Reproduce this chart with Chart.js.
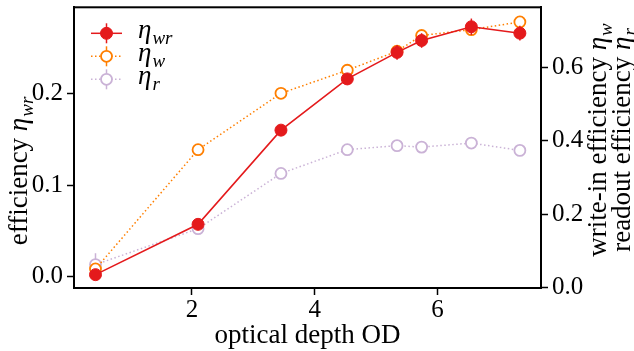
<!DOCTYPE html>
<html><head><meta charset="utf-8">
<script src="https://cdn.jsdelivr.net/npm/chart.js@4/dist/chart.umd.min.js"></script>
<style>html,body{margin:0;padding:0;background:#fff;}#wrap{width:634px;height:351px;}</style>
</head><body><div id="wrap"><canvas id="c" width="634" height="351"></canvas></div>
<script>
// ---- data ----
const opticalDepth = [0.43, 2.10, 3.45, 4.53, 5.34, 5.74, 6.55, 7.34];
const etaWR = [0.002, 0.057, 0.160, 0.216, 0.245, 0.258, 0.273, 0.266];
const etaWRErr = [0.004, 0.004, 0.005, 0.006, 0.008, 0.008, 0.009, 0.008];
const etaW = [0.050, 0.376, 0.530, 0.593, 0.645, 0.688, 0.704, 0.725];
const etaWErr = [0.010, 0.010, 0.010, 0.010, 0.010, 0.010, 0.010, 0.010];
const etaR = [0.062, 0.160, 0.311, 0.376, 0.387, 0.383, 0.394, 0.374];
const etaRErr = [0.031, 0.010, 0.010, 0.010, 0.010, 0.010, 0.010, 0.010];
const xTicks = [2, 4, 6];
const leftTicks = [0.0, 0.1, 0.2];
const rightTicks = [0.0, 0.2, 0.4, 0.6];
const seriesNames = [['η', 'wr'], ['η', 'w'], ['η', 'r']];

const FONT = '"Liberation Serif", "Times New Roman", serif';
const FS = 25;      // tick labels
const TFS = 27;     // axis titles / legend
const RED = '#e41a1c', ORANGE = '#ff7f00', PURPLE = '#cab2d6';

const pts = (ys) => opticalDepth.map((x, i) => ({x, y: ys[i]}));

function drawMath(ctx, parts, x, y, size) {
  let cx = x;
  if (parts.plain) {
    ctx.font = `${size}px ${FONT}`;
    ctx.fillText(parts.plain, cx, y);
    cx += ctx.measureText(parts.plain).width;
  }
  ctx.font = `italic ${size}px ${FONT}`;
  ctx.fillText(parts.base, cx, y);
  cx += ctx.measureText(parts.base).width + 1;
  ctx.font = `italic ${Math.round(size * 0.72)}px ${FONT}`;
  ctx.fillText(parts.sub, cx, y + size * 0.22);
}
function mathWidth(ctx, parts, size) {
  let w = 0;
  if (parts.plain) { ctx.font = `${size}px ${FONT}`; w += ctx.measureText(parts.plain).width; }
  ctx.font = `italic ${size}px ${FONT}`; w += ctx.measureText(parts.base).width + 1;
  ctx.font = `italic ${Math.round(size * 0.72)}px ${FONT}`; w += ctx.measureText(parts.sub).width;
  return w;
}

const errorBars = {
  id: 'errorBars',
  beforeDatasetDraw(chart, args) {
    const ds = chart.data.datasets[args.index];
    if (!ds.errors) return;
    const ctx = chart.ctx, xs = chart.scales.x, ys = chart.scales[ds.yAxisID];
    ctx.save();
    ctx.strokeStyle = ds.borderColor; ctx.lineWidth = 1.5;
    ds.data.forEach((p, i) => {
      const e = ds.errors[i], px = xs.getPixelForValue(p.x);
      ctx.beginPath();
      ctx.moveTo(px, ys.getPixelForValue(p.y - e));
      ctx.lineTo(px, ys.getPixelForValue(p.y + e));
      ctx.stroke();
    });
    ctx.restore();
  }
};

const decorations = {
  id: 'decorations',
  afterDraw(chart) {
    const ctx = chart.ctx, a = chart.chartArea;
    ctx.save();
    ctx.strokeStyle = '#000'; ctx.lineWidth = 2;
    ctx.strokeRect(a.left, a.top, a.right - a.left, a.bottom - a.top);
    // legend
    chart.data.datasets.forEach((ds, i) => {
      const y = a.top + 26 + i * 23, x0 = a.left + 17, x1 = a.left + 48, xm = (x0 + x1) / 2;
      ctx.strokeStyle = ds.borderColor; ctx.lineWidth = 1.5;
      ctx.setLineDash(ds.borderDash || []);
      ctx.beginPath(); ctx.moveTo(x0, y); ctx.lineTo(x1, y); ctx.stroke();
      ctx.setLineDash([]);
      ctx.beginPath(); ctx.moveTo(xm, y - 10); ctx.lineTo(xm, y + 10); ctx.stroke();
      ctx.beginPath(); ctx.arc(xm, y, ds.pointRadius, 0, Math.PI * 2);
      ctx.fillStyle = ds.pointBackgroundColor; ctx.fill();
      ctx.lineWidth = ds.pointBorderWidth; ctx.strokeStyle = ds.pointBorderColor; ctx.stroke();
      ctx.fillStyle = '#000'; ctx.textBaseline = 'alphabetic'; ctx.textAlign = 'left';
      drawMath(ctx, {base: seriesNames[i][0], sub: seriesNames[i][1]}, a.left + 64, y + 5, TFS);
    });
    ctx.fillStyle = '#000'; ctx.textBaseline = 'alphabetic'; ctx.textAlign = 'center';
    ctx.font = `${TFS}px ${FONT}`;
    ctx.fillText('optical depth OD', (a.left + a.right) / 2, 343);
    ctx.textAlign = 'left';
    const lt = {plain: 'efficiency ', base: 'η', sub: 'wr'};
    ctx.save(); ctx.translate(27, 171); ctx.rotate(-Math.PI / 2);
    drawMath(ctx, lt, -mathWidth(ctx, lt, TFS) / 2, 0, TFS);
    ctx.restore();
    const r1 = {plain: 'write-in efficiency ', base: 'η', sub: 'w'};
    const r2 = {plain: 'readout efficiency ', base: 'η', sub: 'r'};
    ctx.save(); ctx.translate(606, 140); ctx.rotate(-Math.PI / 2);
    drawMath(ctx, r1, -mathWidth(ctx, r1, TFS) / 2, 0, TFS);
    ctx.restore();
    ctx.save(); ctx.translate(630, 140); ctx.rotate(-Math.PI / 2);
    drawMath(ctx, r2, -mathWidth(ctx, r2, TFS) / 2, 0, TFS);
    ctx.restore();
    ctx.restore();
  }
};

const tickFont = {family: FONT, size: FS};
const axisCommon = {
  border: {display: true, color: '#000', width: 2},
  grid: {drawOnChartArea: false, drawTicks: true, tickLength: 7, tickColor: '#000', tickWidth: 1.5},
};
const noPad = s => { s.paddingTop = 0; s.paddingBottom = 0; s.paddingLeft = 0; s.paddingRight = 0; };

new Chart(document.getElementById('c'), {
  type: 'line',
  data: {
    datasets: [
      {label: 'eta_wr', data: pts(etaWR), errors: etaWRErr, yAxisID: 'y', order: 0,
       borderColor: RED, borderWidth: 1.6, pointRadius: 6, pointBackgroundColor: RED,
       pointBorderColor: RED, pointBorderWidth: 1, clip: false},
      {label: 'eta_w', data: pts(etaW), errors: etaWErr, yAxisID: 'y2', order: 1,
       borderColor: ORANGE, borderWidth: 1.5, borderDash: [1.5, 2.5], pointRadius: 5.5,
       pointBackgroundColor: '#fff', pointBorderColor: ORANGE, pointBorderWidth: 1.8, clip: false},
      {label: 'eta_r', data: pts(etaR), errors: etaRErr, yAxisID: 'y2', order: 2,
       borderColor: PURPLE, borderWidth: 1.5, borderDash: [1.5, 2.5], pointRadius: 5.5,
       pointBackgroundColor: '#fff', pointBorderColor: PURPLE, pointBorderWidth: 1.8, clip: false}
    ]
  },
  options: {
    responsive: false, animation: false,
    layout: {padding: {top: 7, left: 0, right: 0, bottom: 0}},
    plugins: {legend: {display: false}, tooltip: {enabled: false}},
    elements: {line: {tension: 0}},
    scales: {
      x: {type: 'linear', position: 'bottom', min: 0.08, max: 7.684, ...axisCommon,
          ticks: {font: tickFont, color: '#000', padding: 0, callback: v => String(v)},
          afterBuildTicks: s => { s.ticks = xTicks.map(v => ({value: v})); },
          afterFit: s => { s.height = 63; noPad(s); }},
      y: {type: 'linear', position: 'left', min: -0.0126, max: 0.2943, ...axisCommon,
          ticks: {font: tickFont, color: '#000', padding: 4, callback: v => v.toFixed(1)},
          afterBuildTicks: s => { s.ticks = leftTicks.map(v => ({value: v})); },
          afterFit: s => { s.width = 74; noPad(s); }},
      y2: {type: 'linear', position: 'right', min: -0.002, max: 0.765, ...axisCommon,
          ticks: {font: tickFont, color: '#000', padding: 4, callback: v => v.toFixed(1)},
          afterBuildTicks: s => { s.ticks = rightTicks.map(v => ({value: v})); },
          afterFit: s => { s.width = 93; noPad(s); }}
    }
  },
  plugins: [errorBars, decorations]
});
</script></body></html>
